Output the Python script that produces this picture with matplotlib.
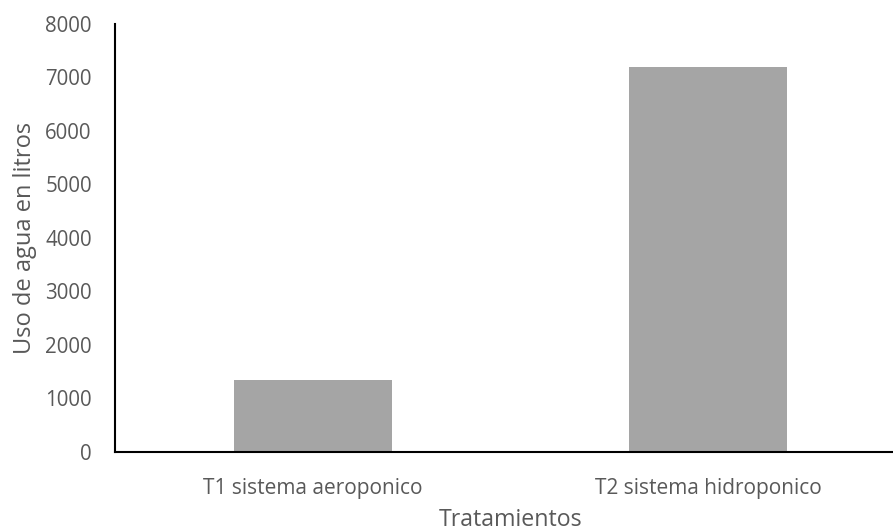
import matplotlib
matplotlib.use("Agg")
from matplotlib import pyplot as plt

# uso de agua por tratamiento
tratamientos = ['T1 sistema aeroponico', 'T2 sistema hidroponico']
litros = [1340, 7200]
yticks = [0, 1000, 2000, 3000, 4000, 5000, 6000, 7000, 8000]

plt.rcParams['font.family'] = ['Open Sans', 'DejaVu Sans']
gris = '#595959'

fig = plt.figure(figsize=(8.93, 5.31), dpi=100)
ax = fig.add_axes([0.1293, 0.1497, 0.8847, 0.805])

ax.bar(range(len(tratamientos)), litros, width=0.4, color='#a5a5a5')

ax.set_xlim(-0.5, 1.5)
ax.set_ylim(0, 8000)
ax.set_yticks(yticks)
ax.set_yticklabels([str(v) for v in yticks], fontsize=14.8, color=gris)
ax.set_xticks(range(len(tratamientos)))
ax.set_xticklabels(tratamientos, fontsize=15, color=gris)
ax.tick_params(axis='y', length=0, pad=17)
ax.tick_params(axis='x', length=0, pad=19)

for s in ['top', 'right']:
    ax.spines[s].set_visible(False)
for s in ['left', 'bottom']:
    ax.spines[s].set_linewidth(1.5)
    ax.spines[s].set_color('black')

ax.set_ylabel('Uso de agua en litros', fontsize=17, color=gris, labelpad=6)
fig.text(0.572, 0.02, 'Tratamientos', fontsize=16.7, color=gris, ha='center', va='center')

fig.savefig('out.png', dpi=100)
